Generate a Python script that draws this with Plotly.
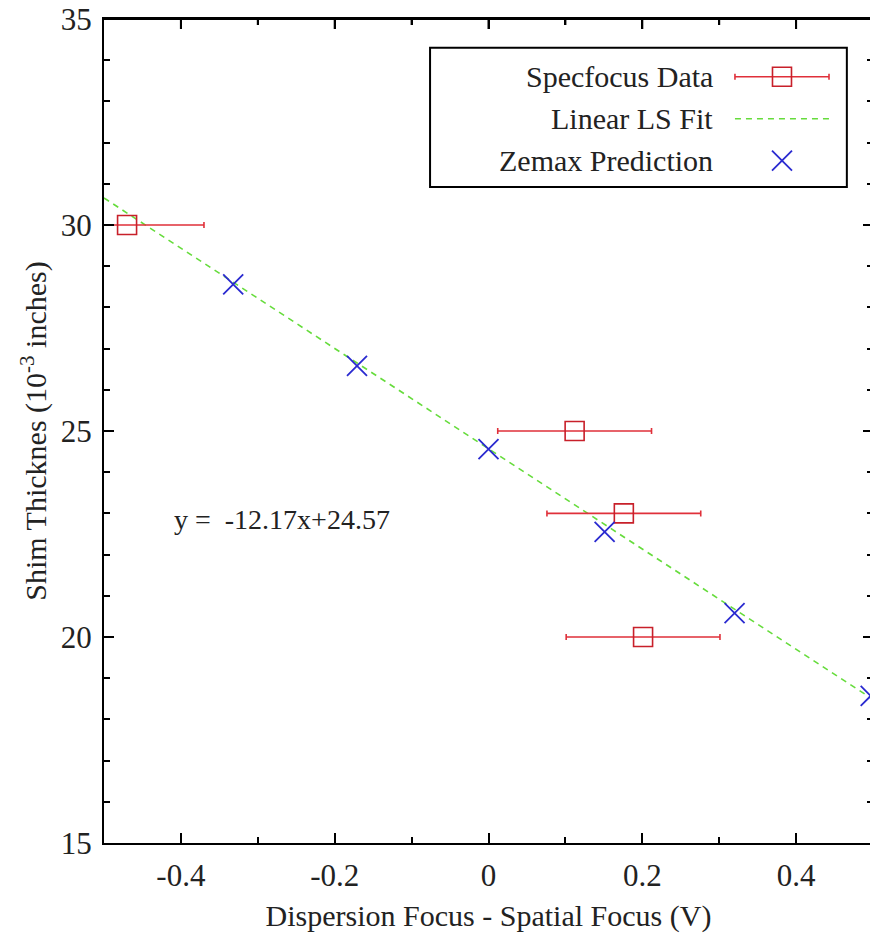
import plotly.graph_objects as go

# Data
spec_x = [-0.47, 0.112, 0.176, 0.201]
spec_y = [30, 25, 23, 20]
spec_err = [0.1, 0.1, 0.1, 0.1]

zemax_x = [-0.332, -0.171, 0.0, 0.151, 0.320, 0.497]
zemax_y = [28.56, 26.58, 24.56, 22.55, 20.58, 18.57]

fit_slope = -12.17
fit_intercept = 24.57
fit_x = [-0.5, 0.5]
fit_y = [fit_slope * v + fit_intercept for v in fit_x]

x_ticks = [-0.4, -0.2, 0, 0.2, 0.4]
x_minor_ticks = [-0.3, -0.1, 0.1, 0.3]
x_ticklabels = ["-0.4", "-0.2", "0", "0.2", "0.4"]
y_ticks = [15, 20, 25, 30, 35]

legend_names = ["Specfocus Data", "Linear LS Fit", "Zemax Prediction"]

RED_BAR = "#e0303a"
RED_SQ = "#c8202a"
GREEN = "#66dc3c"
BLUE = "#2a2ad0"
SERIF = "Liberation Serif, Times New Roman, serif"
TXT = "#222"

W, H = 878, 943
M_L, M_R, M_T, M_B = 96, 13, 11, 108
PLOT_H = H - M_T - M_B

fig = go.Figure()

fig.add_trace(go.Scatter(
    x=fit_x, y=fit_y, mode="lines",
    line=dict(color=GREEN, width=1.6, dash="6px,5px"),
    showlegend=False))

fig.add_trace(go.Scatter(
    x=spec_x, y=spec_y, mode="markers",
    marker=dict(symbol="square-open", size=19, color=RED_SQ, line=dict(width=1.6, color=RED_SQ)),
    error_x=dict(type="data", array=spec_err, color=RED_BAR, thickness=1.6, width=3),
    showlegend=False))

fig.add_trace(go.Scatter(
    x=zemax_x, y=zemax_y, mode="markers",
    marker=dict(symbol="x-thin-open", size=20, color=BLUE, line=dict(width=1.8, color=BLUE)),
    showlegend=False, cliponaxis=False))

# Custom legend (samples on the right, text right-aligned) using an overlay axis
lx0, lx1 = 0.8205, 0.9428
lxc = (lx0 + lx1) / 2
ly = [0.930, 0.879, 0.828]
fig.add_trace(go.Scatter(
    x=[lxc], y=[ly[0]], xaxis="x2", yaxis="y2", mode="markers",
    marker=dict(symbol="square-open", size=19, color=RED_SQ, line=dict(width=1.6, color=RED_SQ)),
    error_x=dict(type="constant", value=(lx1 - lx0) / 2, color=RED_BAR, thickness=1.6, width=3),
    showlegend=False, hoverinfo="skip"))
fig.add_trace(go.Scatter(
    x=[lx0, lx1], y=[ly[1], ly[1]], xaxis="x2", yaxis="y2", mode="lines",
    line=dict(color=GREEN, width=1.6, dash="6px,5px"),
    showlegend=False, hoverinfo="skip"))
fig.add_trace(go.Scatter(
    x=[lxc], y=[ly[2]], xaxis="x2", yaxis="y2", mode="markers",
    marker=dict(symbol="x-thin-open", size=20, color=BLUE, line=dict(width=1.8, color=BLUE)),
    showlegend=False, hoverinfo="skip"))

annotations = []
for name, yy in zip(legend_names, ly):
    annotations.append(dict(x=0.795, y=yy, xref="paper", yref="paper", text=name,
                            showarrow=False, xanchor="right", yanchor="middle",
                            font=dict(family=SERIF, size=30, color=TXT)))
annotations.append(dict(x=-0.412, y=22.85, xref="x", yref="y",
                        text="y =  -12.17x+24.57", showarrow=False,
                        xanchor="left", yanchor="middle",
                        font=dict(family=SERIF, size=28, color=TXT)))

shapes = [
    dict(type="rect", xref="paper", yref="paper", x0=0.424, x1=0.966, y0=0.796, y1=0.965,
         line=dict(color="black", width=2), fillcolor="rgba(0,0,0,0)", layer="above"),
    dict(type="line", xref="paper", yref="paper", x0=0, x1=1, y0=1, y1=1,
         line=dict(color="black", width=2), layer="above"),
]
# top-edge tick marks (inside), placed at the axis tick values
for tv in x_ticks:
    shapes.append(dict(type="line", xref="x", yref="paper", x0=tv, x1=tv,
                       y0=1, y1=1 - 10 / PLOT_H, line=dict(color="black", width=2), layer="above"))
for tv in x_minor_ticks:
    shapes.append(dict(type="line", xref="x", yref="paper", x0=tv, x1=tv,
                       y0=1, y1=1 - 6 / PLOT_H, line=dict(color="black", width=2), layer="above"))

axis_common = dict(
    showgrid=False, zeroline=False, showline=True, linecolor="black", linewidth=2,
    mirror="ticks", ticks="inside", ticklen=10, tickwidth=2, tickcolor="black",
    tickfont=dict(family=SERIF, size=31, color=TXT), automargin=False,
)

# The page body adds an 8px offset; margins are shifted to compensate.
fig.update_layout(
    width=W, height=H,
    margin=dict(l=M_L, r=M_R, t=M_T, b=M_B),
    plot_bgcolor="white", paper_bgcolor="white",
    xaxis=dict(range=[-0.5, 0.5], tickvals=x_ticks, ticktext=x_ticklabels,
               minor=dict(dtick=0.1, tick0=0, ticks="inside", ticklen=6, tickwidth=2, tickcolor="black"),
               title=dict(text="Dispersion Focus - Spatial Focus (V)", standoff=13,
                          font=dict(family=SERIF, size=30, color=TXT)),
               ticklabelstandoff=4,
               **axis_common),
    yaxis=dict(range=[15, 35], tickvals=y_ticks,
               minor=dict(dtick=1, tick0=15, ticks="inside", ticklen=6, tickwidth=2, tickcolor="black"),
               title=dict(text="Shim Thicknes (10<sup>-3</sup> inches)", standoff=5,
                          font=dict(family=SERIF, size=30, color=TXT)),
               ticklabelstandoff=4, ticklabeloverflow="allow",
               **axis_common),
    xaxis2=dict(overlaying="x", range=[0, 1], visible=False, fixedrange=True),
    yaxis2=dict(overlaying="y", range=[0, 1], visible=False, fixedrange=True),
    annotations=annotations,
    shapes=shapes,
    showlegend=False,
)

fig.write_html("out.html")
